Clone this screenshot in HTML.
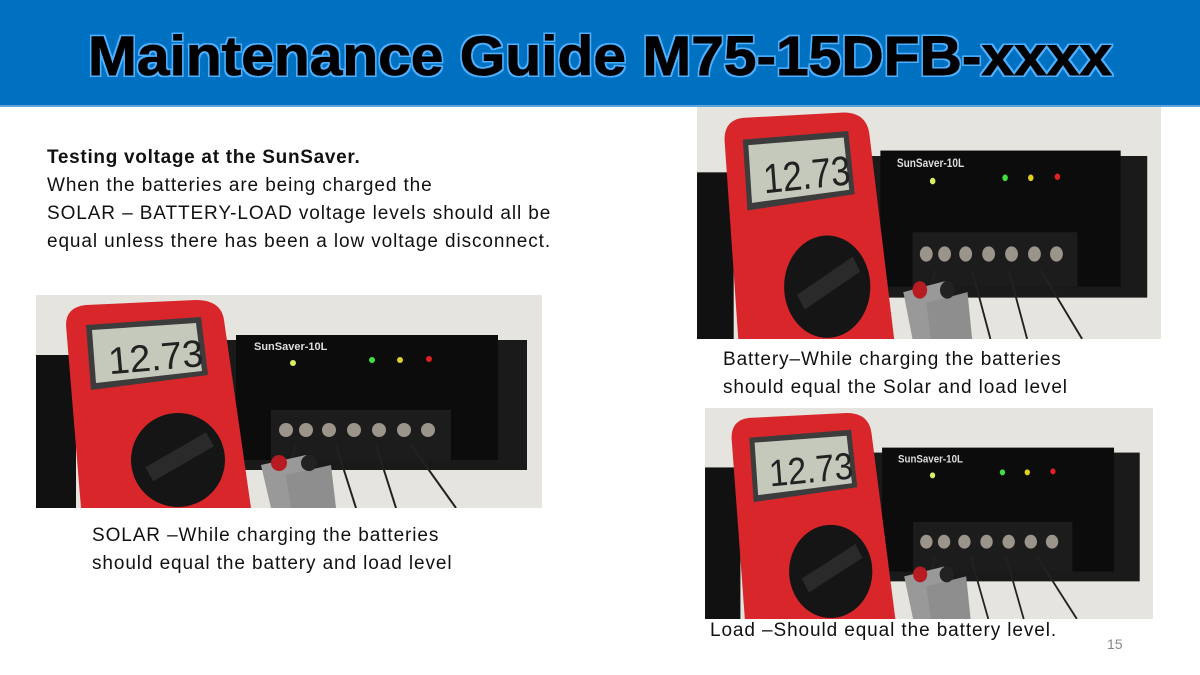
<!DOCTYPE html>
<html><head><meta charset="utf-8"><style>
body{margin:0;width:1200px;height:675px;background:#fff;position:relative;overflow:hidden;font-family:"Liberation Sans",sans-serif}
.hdr{position:absolute;left:0;top:0;width:1200px;height:105px;background:#0070c0;border-bottom:2px solid #5ea3dc}
.t{position:absolute;font-size:19px;letter-spacing:0.9px;color:#111;line-height:28px;white-space:nowrap}
.ph{position:absolute}
</style></head><body>
<div class="hdr"><svg width="1200" height="105"><defs><filter id="g"><feMorphology operator="dilate" radius="1.5" in="SourceAlpha" result="d"/><feFlood flood-color="#4fb0ff"/><feComposite in2="d" operator="in" result="c"/><feMerge><feMergeNode in="c"/><feMergeNode in="SourceGraphic"/></feMerge></filter></defs>
<text x="88" y="75" font-family="Liberation Sans" font-weight="bold" font-size="56" textLength="1024" lengthAdjust="spacingAndGlyphs" fill="#000" stroke="#000" stroke-width="1" filter="url(#g)">Maintenance Guide M75-15DFB-xxxx</text></svg></div>

<div class="t" style="left:47px;top:144px"><b style="letter-spacing:0.7px">Testing voltage at the SunSaver.</b><br>When the batteries are being charged the<br>SOLAR – BATTERY-LOAD voltage levels should all be<br>equal unless there has been a low voltage disconnect.</div>

<svg width="0" height="0" style="position:absolute"><defs>
<g id="photo">
<rect width="506" height="213" fill="#e6e4de"/>
<rect x="0" y="60" width="40" height="153" fill="#111"/>
<rect x="176" y="45" width="315" height="130" fill="#1a1a1a"/>
<rect x="200" y="40" width="262" height="125" fill="#0c0c0c"/>
<rect x="235" y="115" width="180" height="50" fill="#1c1c1c"/>
<g fill="#9a948a"><circle cx="250" cy="135" r="7"/><circle cx="270" cy="135" r="7"/><circle cx="293" cy="135" r="7"/><circle cx="318" cy="135" r="7"/><circle cx="343" cy="135" r="7"/><circle cx="368" cy="135" r="7"/><circle cx="392" cy="135" r="7"/></g>
<circle cx="257" cy="68" r="3" fill="#d8f060"/><circle cx="336" cy="65" r="3" fill="#40e040"/><circle cx="364" cy="65" r="3" fill="#e0d020"/><circle cx="393" cy="64" r="3" fill="#e02020"/>
<text x="218" y="55" font-size="11" font-weight="bold" fill="#ddd" font-family="Liberation Sans">SunSaver-10L</text>
<g stroke="#222" stroke-width="2"><line x1="260" y1="150" x2="240" y2="213"/><line x1="300" y1="150" x2="320" y2="213"/><line x1="340" y1="150" x2="360" y2="213"/><line x1="375" y1="150" x2="420" y2="213"/></g>
<path d="M30 30 Q30 12 50 10 L160 5 Q185 5 188 25 L215 213 L45 213 Z" fill="#d8262b"/>
<path d="M50 30 L165 22 L172 80 L55 95 Z" fill="#3c3c3c"/>
<path d="M56 35 L160 28 L166 76 L60 88 Z" fill="#c5c9bb"/>
<text x="72" y="76" font-size="38" fill="#222" font-family="Liberation Sans" transform="rotate(-5 110 60)">12.73</text>
<circle cx="142" cy="165" r="47" fill="#151515"/>
<rect x="110" y="155" width="70" height="16" fill="#2a2a2a" transform="rotate(-30 142 165)"/>
<path d="M225 170 L270 160 L275 213 L235 213 Z" fill="#999"/><path d="M250 180 L295 170 L300 213 L255 213 Z" fill="#8e8e8e"/>
<circle cx="243" cy="168" r="8" fill="#b71c22"/><circle cx="273" cy="168" r="8" fill="#222"/>
</g></defs></svg>

<svg class="ph" style="left:36px;top:295px" width="506" height="213" viewBox="0 0 506 213" preserveAspectRatio="none"><use href="#photo"/></svg>
<svg class="ph" style="left:697px;top:107px" width="464" height="232" viewBox="0 0 506 213" preserveAspectRatio="none"><use href="#photo"/></svg>
<svg class="ph" style="left:705px;top:408px" width="448" height="211" viewBox="0 0 506 213" preserveAspectRatio="none"><use href="#photo"/></svg>

<div class="t" style="left:92px;top:522px">SOLAR –While charging the batteries<br>should equal the battery and load level</div>
<div class="t" style="left:723px;top:346px">Battery–While charging the batteries<br>should equal the Solar and load level</div>
<div class="t" style="left:710px;top:617px">Load –Should equal the battery level.</div>
<div style="position:absolute;left:1107px;top:636px;font-size:14px;color:#888">15</div>
</body></html>
